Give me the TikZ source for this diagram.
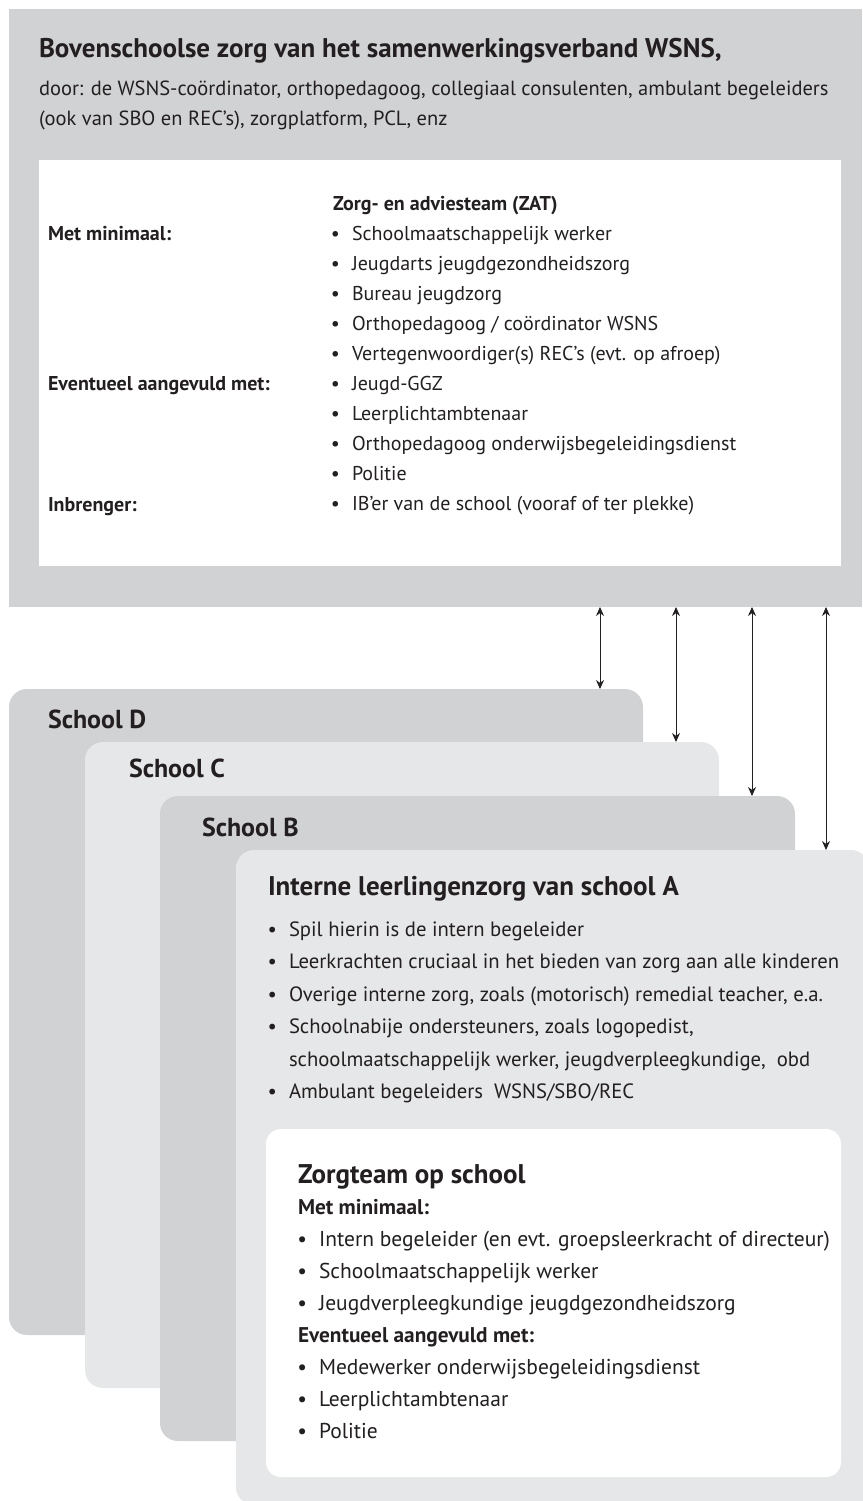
\documentclass[tikz,border=0pt]{standalone}
\usepackage{fontspec}
\setmainfont{PT Sans}
\usetikzlibrary{arrows.meta}

\definecolor{donkervlak}{HTML}{D1D2D4}
\definecolor{lichtvlak}{HTML}{E6E7E8}
\definecolor{inkt}{HTML}{231F20}

\begin{document}
\begin{tikzpicture}[x=1pt,y=-1pt,
  every node/.style={inner sep=0pt,outer sep=0pt,text=inkt},
  vlak/.style={anchor=north west},
  kaart/.style={vlak,rounded corners=18pt},
  grootkop/.style={anchor=base west,font=\bfseries\fontsize{27}{31}\selectfont},
  kop/.style={anchor=base west,font=\bfseries\fontsize{27}{31}\selectfont},
  schoolnaam/.style={anchor=base west,font=\bfseries\fontsize{26}{30}\selectfont},
  tekst/.style={anchor=base west,font=\fontsize{20.5}{24}\selectfont},
  zattekst/.style={anchor=base west,font=\fontsize{20}{24}\selectfont},
  vettekst/.style={anchor=base west,font=\bfseries\fontsize{20}{24}\selectfont},
  klein/.style={anchor=base west,font=\fontsize{20.7}{24}\selectfont},
  team/.style={anchor=base west,font=\fontsize{21.5}{25}\selectfont},
  vetteam/.style={anchor=base west,font=\bfseries\fontsize{21.3}{25}\selectfont},
  punt/.style={execute at begin node={\llap{\textbullet\hspace{12pt}}}},
  >={Stealth[length=9pt,width=8pt]}]
\useasboundingbox (0,0) rectangle (862,1501);

% bovenschoolse zorg
\node[vlak,fill=donkervlak,minimum width=853pt,minimum height=598pt] (boven) at (9,9) {};
\node[vlak,fill=white,minimum width=802pt,minimum height=406pt] (zat) at (39,160) {};
\node[grootkop] (titel) at (39,58) {Bovenschoolse zorg van het samenwerkingsverband WSNS,};
\node[tekst] (door) at (39,96) {door: de WSNS-coördinator, orthopedagoog, collegiaal consulenten, ambulant begeleiders};
\node[tekst] (ook) at (39,125) {(ook van SBO en REC’s), zorgplatform, PCL, enz};

% zorg- en adviesteam
\node[vettekst] (zatkop) at (333,210) {Zorg- en adviesteam (ZAT)};
\node[vettekst] (zatmin) at (48,240) {Met minimaal:};
\node[vettekst] (zatevt) at (48,390.5) {Eventueel aangevuld met:};
\node[vettekst] (zatin) at (48,511) {Inbrenger:};
\foreach \t [count=\i] in {{Schoolmaatschappelijk werker},{Jeugdarts jeugdgezondheidszorg},
  {Bureau jeugdzorg},{Orthopedagoog / coördinator WSNS},
  {Vertegenwoordiger(s) REC’s (evt. op afroep)},{Jeugd-GGZ},{Leerplichtambtenaar},
  {Orthopedagoog onderwijsbegeleidingsdienst},{Politie},
  {IB’er van de school (vooraf of ter plekke)}}
  \node[zattekst,punt] (zat\i) at (352,{240+30.1*(\i-1)}) {\t};

% scholen
\node[kaart,fill=donkervlak,minimum width=634pt,minimum height=646pt] (schoolD) at (9,689) {};
\node[kaart,fill=lichtvlak,minimum width=634pt,minimum height=646pt] (schoolC) at (85,742) {};
\node[kaart,fill=donkervlak,minimum width=635pt,minimum height=645pt] (schoolB) at (160,796) {};
\node[kaart,fill=lichtvlak,minimum width=633pt,minimum height=655pt] (schoolA) at (236,850) {};
\node[schoolnaam] (naamD) at (48,728) {School D};
\node[schoolnaam] (naamC) at (129,777) {School C};
\node[schoolnaam] (naamB) at (202,836) {School B};

% pijlen tussen bovenschools en de scholen
\foreach \s in {D,C,B,A} {
  \coordinate (pijl\s) at ([xshift=-43pt]school\s.north east);
  \draw[<->,line width=0.9pt,inkt] (pijl\s |- boven.south) -- (pijl\s);
}

% interne zorg school A
\node[kop] (internkop) at (268,895) {Interne leerlingenzorg van school A};
\node[klein,punt] (intern1) at (289,936) {Spil hierin is de intern begeleider};
\node[klein,punt] (intern2) at (289,968.5) {Leerkrachten cruciaal in het bieden van zorg aan alle kinderen};
\node[klein,punt] (intern3) at (289,1001) {Overige interne zorg, zoals (motorisch) remedial teacher, e.a.};
\node[klein,punt] (intern4) at (289,1033.5) {Schoolnabije ondersteuners, zoals logopedist,};
\node[klein] (intern4b) at (289,1066) {schoolmaatschappelijk werker, jeugdverpleegkundige,\ \ obd};
\node[klein,punt] (intern5) at (289,1098.5) {Ambulant begeleiders\ \ WSNS/SBO/REC};

% zorgteam
\node[kaart,rounded corners=15pt,fill=white,minimum width=575pt,minimum height=348pt] (zorgteam) at (266,1129) {};
\node[kop] (teamkop) at (298,1183) {Zorgteam op school};
\node[vetteam] (teammin) at (298,1214) {Met minimaal:};
\node[team,punt] (team1) at (319,1246) {Intern begeleider (en evt. groepsleerkracht of directeur)};
\node[team,punt] (team2) at (319,1278) {Schoolmaatschappelijk werker};
\node[team,punt] (team3) at (319,1310) {Jeugdverpleegkundige jeugdgezondheidszorg};
\node[vetteam] (teamevt) at (298,1342) {Eventueel aangevuld met:};
\node[team,punt] (team4) at (319,1374) {Medewerker onderwijsbegeleidingsdienst};
\node[team,punt] (team5) at (319,1406) {Leerplichtambtenaar};
\node[team,punt] (team6) at (319,1438) {Politie};
\end{tikzpicture}
\end{document}
